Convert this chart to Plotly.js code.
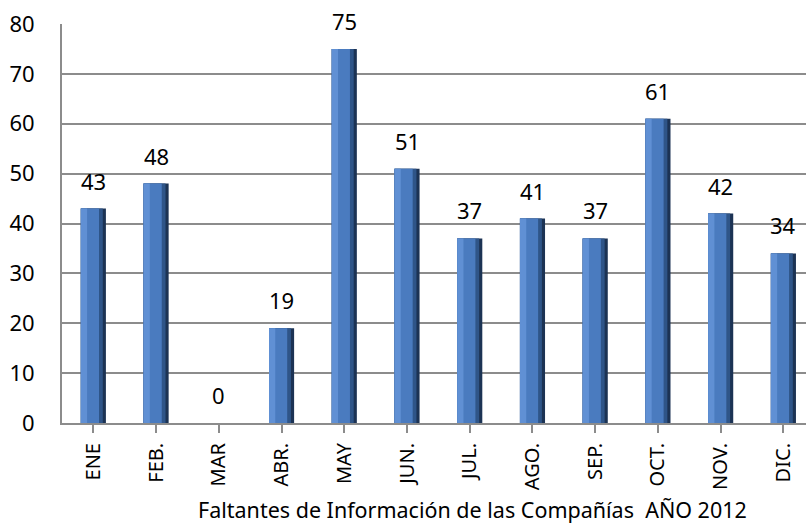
<!DOCTYPE html>
<html>
<head>
<meta charset="utf-8">
<script src="https://cdn.plot.ly/plotly-3.0.1.min.js"></script>
<style>html,body{margin:0;padding:0;background:#fff;}#chart{width:806px;height:525px;}</style>
</head>
<body>
<div id="chart"></div>
<script>
const months = ['ENE','FEB.','MAR','ABR.','MAY','JUN.','JUL.','AGO.','SEP.','OCT.','NOV.','DIC.'];
const faltantes = [43,48,0,19,75,51,37,41,37,61,42,34];
const yTicks = [0,10,20,30,40,50,60,70,80];
const axisTitle = 'Faltantes de Información de las Compañías  AÑO 2012';

const FONT = 'Noto Sans, Open Sans, sans-serif';
const FS = 22;

const layers = [
  {color:'#1c3354', offset:-0.2, width:0.4},
  {color:'#2f5588', offset:-0.2, width:0.35},
  {color:'#4a7bbf', offset:-0.2, width:0.29},
  {color:'#6090d4', offset:-0.2, width:0.1}
];
const traces = layers.map(l => ({
  type:'bar', x: months.map((m,i)=>i), y: faltantes,
  marker:{color:l.color, line:{width:0}},
  offset:l.offset, width:l.width, hoverinfo:'skip', showlegend:false
}));

const annotations = faltantes.map((v,i)=>({
  x:i, y:v, xref:'x', yref:'y', text:String(v), showarrow:false,
  yanchor:'bottom', yshift:11, font:{family:FONT, size:FS, color:'#000'}
}));
annotations.push({
  xref:'paper', yref:'paper', x:0.5524, y:-0.259, yanchor:'bottom', xanchor:'center',
  text:axisTitle, showarrow:false, font:{family:FONT, size:21.5, color:'#000'}
});

const layout = {
  width:806, height:525,
  margin:{l:62, r:0, t:24, b:102},
  paper_bgcolor:'#fff', plot_bgcolor:'#fff',
  barmode:'overlay',
  font:{family:FONT, size:FS, color:'#000'},
  xaxis:{
    range:[-0.5, 11.36], tickmode:'array', tickvals:months.map((m,i)=>i), ticktext:months,
    tickangle:-90, showgrid:false, zeroline:false,
    showline:true, linecolor:'#8c8c8c', linewidth:2,
    ticks:'outside', ticklen:8, tickcolor:'#8c8c8c', tickwidth:2,
    tickson:'boundaries', ticklabelstandoff:2,
    tickfont:{family:FONT, size:20, color:'#000'}
  },
  yaxis:{
    range:[0,80], tickmode:'array', tickvals:yTicks,
    showgrid:true, gridcolor:'#8c8c8c', gridwidth:2, zeroline:false,
    showline:true, linecolor:'#8c8c8c', linewidth:2,
    ticks:'', ticklabelstandoff:21,
    tickfont:{family:FONT, size:FS, color:'#000'}
  },
  annotations: annotations
};

Plotly.newPlot('chart', traces, layout, {displayModeBar:false, staticPlot:true});
</script>
</body>
</html>
